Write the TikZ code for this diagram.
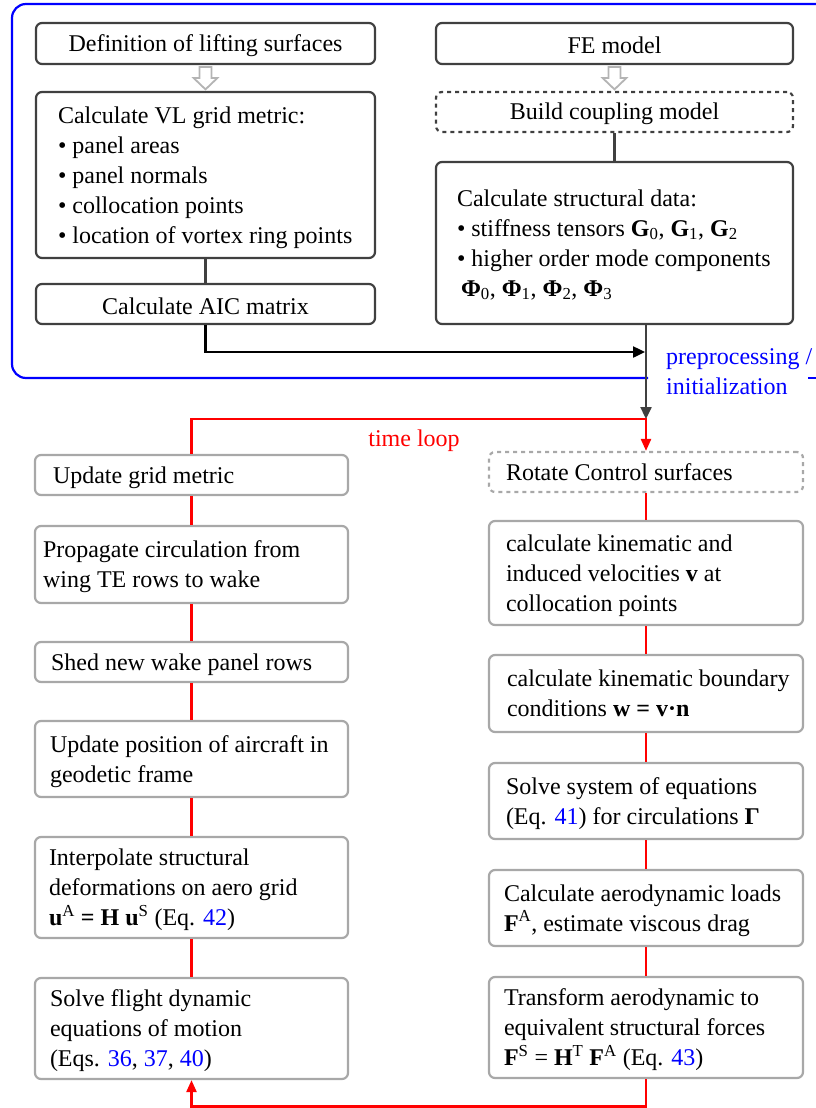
\documentclass[tikz,border=0pt]{standalone}
\usepackage{fontspec}
\setmainfont{Liberation Serif}
\usetikzlibrary{arrows.meta,calc}
\definecolor{dg}{HTML}{404040}
\definecolor{lg}{HTML}{A8A8A8}
\definecolor{hg}{HTML}{B4B4B4}
\definecolor{fblue}{HTML}{0000FF}
\definecolor{fred}{HTML}{FF0000}
\newcommand{\lblock}[2]{\raisebox{-2pt}[\height][\depth]{\makebox[#1][l]{\begin{tabular}{@{}l@{}}#2\end{tabular}}}}
\newcommand{\cblock}[1]{\raisebox{-2pt}[\height][\depth]{#1}}
\newcommand{\eqnum}[1]{\textcolor{fblue}{#1}}
\begin{document}
\begin{tikzpicture}[x=1pt,y=-1pt,
  font=\fontsize{24}{30}\selectfont,
  topbox/.style={draw=dg, line width=2.2pt, rounded corners=6pt, fill=white, inner sep=0pt, minimum height=40pt},
  botbox/.style={draw=lg, line width=2.2pt, rounded corners=6pt, fill=white, inner ysep=0pt, minimum width=313pt},
  rbox/.style={botbox, minimum width=314pt},
  dashbox/.style={dash pattern=on 4pt off 4pt},
  gconn/.style={draw=dg, line width=2.4pt},
  rconn/.style={draw=fred, line width=2.4pt},
  rarrow/.style={rconn, -{Triangle[length=12pt,width=10pt]}},
  hollow/.style={draw=hg, line width=1.8pt, fill=white, line join=miter}
]
\useasboundingbox (0,0) rectangle (816,1108);

% blue preprocessing frame
\draw[fblue, line width=2.2pt, rounded corners=14pt] (648,378) -- (12,378) -- (12,4) -- (840,4);
\draw[fblue, line width=2.2pt] (808,378) -- (840,378);

% top left column
\node[topbox, minimum width=339pt, minimum height=41pt] (def) at (205.5,43.5) {\cblock{Definition of lifting surfaces}};
\node[topbox, minimum width=339pt, minimum height=166pt, inner xsep=22pt] (vl) at (205.5,175)
  {\lblock{295pt}{Calculate VL grid metric:\\ • panel areas\\ • panel normals\\ • collocation points\\ • location of vortex ring points}};
\node[topbox, minimum width=339pt] (aic) at (205.5,304) {\cblock{Calculate AIC matrix}};

% top right column
\node[topbox, minimum width=357pt, minimum height=41pt] (fe) at (614.5,43.5) {\cblock{FE model}};
\node[topbox, dashbox, minimum width=357pt] (cpl) at (614.5,112) {\cblock{Build coupling model}};
\node[topbox, minimum width=357pt, minimum height=162pt, inner xsep=21pt] (str) at (614.5,243)
  {\lblock{315pt}{Calculate structural data:\\ • stiffness tensors \textbf{G}\textsubscript{0}, \textbf{G}\textsubscript{1}, \textbf{G}\textsubscript{2}\\ • higher order mode components\\ \hspace{4pt}\textbf{Φ}\textsubscript{0}, \textbf{Φ}\textsubscript{1}, \textbf{Φ}\textsubscript{2}, \textbf{Φ}\textsubscript{3}}};

% hollow arrows
\draw[hollow] ([xshift=-6pt,yshift=-2pt]def.south) -- ([xshift=-6pt,yshift=13pt]vl.north) -- ([xshift=-12pt,yshift=13pt]vl.north) -- ([yshift=1.5pt]vl.north) -- ([xshift=12pt,yshift=13pt]vl.north) -- ([xshift=6pt,yshift=13pt]vl.north) -- ([xshift=6pt,yshift=-2pt]def.south) -- cycle;
\draw[hollow] ([xshift=-6pt,yshift=-2pt]fe.south) -- ([xshift=-6pt,yshift=13pt]cpl.north) -- ([xshift=-12pt,yshift=13pt]cpl.north) -- ([yshift=1.5pt]cpl.north) -- ([xshift=12pt,yshift=13pt]cpl.north) -- ([xshift=6pt,yshift=13pt]cpl.north) -- ([xshift=6pt,yshift=-2pt]fe.south) -- cycle;

\draw[gconn] (vl.south) -- (aic.north);
\draw[gconn] (cpl.south) -- (str.north);

% bottom left column
\node[botbox, minimum height=40pt, inner xsep=18pt] (upd) at (191.5,475) {\lblock{277pt}{Update grid metric}};
\node[botbox, minimum height=77pt, inner xsep=8pt] (prop) at (191.5,564.5) {\lblock{297pt}{Propagate circulation from\\ wing TE rows to wake}};
\node[botbox, minimum height=40pt, inner xsep=16pt] (shed) at (191.5,662) {\lblock{281pt}{Shed new wake panel rows}};
\node[botbox, minimum height=76pt, inner xsep=15pt] (pos) at (191.5,759) {\lblock{283pt}{Update position of aircraft in\\ geodetic frame}};
\node[botbox, minimum height=101pt, inner xsep=14pt] (interp) at (191.5,887.5) {\lblock{285pt}{Interpolate structural\\ deformations on aero grid\\ \textbf{u}\textsuperscript{A} \textbf{= H u}\textsuperscript{S} (Eq. \eqnum{42})}};
\node[botbox, minimum height=101pt, inner xsep=15pt] (flight) at (191.5,1028.5) {\lblock{283pt}{Solve flight dynamic\\ equations of motion\\ (Eqs. \eqnum{36}, \eqnum{37}, \eqnum{40})}};

% bottom right column
\node[rbox, dashbox, minimum height=40pt, inner xsep=17pt] (rot) at (646,472) {\lblock{280pt}{Rotate Control surfaces}};
\node[rbox, minimum height=104pt, inner xsep=17pt] (kin) at (646,573) {\lblock{280pt}{calculate kinematic and\\ induced velocities \textbf{v} at\\ collocation points}};
\node[rbox, minimum height=77pt, inner xsep=18pt] (bc) at (646,693.5) {\lblock{278pt}{calculate kinematic boundary\\ conditions \textbf{w = v·n}}};
\node[rbox, minimum height=76pt, inner xsep=17pt] (sys) at (646,801) {\lblock{280pt}{Solve system of equations\\ (Eq. \eqnum{41}) for circulations \textbf{Γ}}};
\node[rbox, minimum height=76pt, inner xsep=15pt] (aero) at (646,908) {\lblock{284pt}{Calculate aerodynamic loads\\ \textbf{F}\textsuperscript{A}, estimate viscous drag}};
\node[rbox, minimum height=101pt, inner xsep=15pt] (trans) at (646,1027.5) {\lblock{284pt}{Transform aerodynamic to\\ equivalent structural forces\\ \textbf{F}\textsuperscript{S} = \textbf{H}\textsuperscript{T} \textbf{F}\textsuperscript{A} (Eq. \eqnum{43})}};

% labels
\node[text=fblue, anchor=west, inner sep=0pt, align=left] (pre) at (666,372) {preprocessing /\\ initialization};
\node[text=fred, inner sep=0pt] (tlab) at (414,441) {time loop};

% coordinates
\coordinate (jn) at (645,352);
\coordinate (tl) at (646,419);
\coordinate (bl) at (646,1106.5);

% preprocessing connectors
\draw[line width=2.4pt, -{Triangle[length=12pt,width=11pt]}] (aic.south) |- (jn);
\draw[gconn, -{Triangle[length=12pt,width=11pt]}] (rot.north |- str.south) -- (tl);

% time loop
\draw[rarrow] (upd.north) |- (tl) -- (rot.north);
\draw[rarrow] (trans.south) -- (bl) -| (flight.south);

\draw[rconn] (upd.south) -- (prop.north);
\draw[rconn] (prop.south) -- (shed.north);
\draw[rconn] (shed.south) -- (pos.north);
\draw[rconn] (pos.south) -- (interp.north);
\draw[rconn] (interp.south) -- (flight.north);

\draw[rconn] (rot.south) -- (kin.north);
\draw[rconn] (kin.south) -- (bc.north);
\draw[rconn] (bc.south) -- (sys.north);
\draw[rconn] (sys.south) -- (aero.north);
\draw[rconn] (aero.south) -- (trans.north);
\end{tikzpicture}
\end{document}
